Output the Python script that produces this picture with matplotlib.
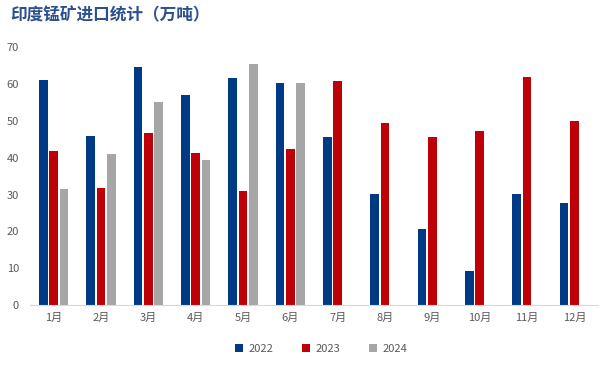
import matplotlib
matplotlib.use("Agg")
import matplotlib.pyplot as plt
import numpy as np

plt.rcParams['font.family'] = ['Noto Sans CJK SC', 'DejaVu Sans']

# data (万吨)
months = ["1月", "2月", "3月", "4月", "5月", "6月", "7月", "8月", "9月", "10月", "11月", "12月"]
imports_2022 = [61.1, 45.9, 64.7, 57.1, 61.7, 60.3, 45.7, 30.2, 20.7, 9.2, 30.2, 27.7]
imports_2023 = [41.8, 31.8, 46.7, 41.3, 31.0, 42.4, 60.9, 49.5, 45.7, 47.3, 62.0, 50.0]
imports_2024 = [31.5, 41.0, 55.2, 39.4, 65.5, 60.3, None, None, None, None, None, None]

series = [
    ("2022", imports_2022, "#003A85"),
    ("2023", imports_2023, "#BE0008"),
    ("2024", imports_2024, "#A6A6A6"),
]

fig = plt.figure(figsize=(6.12, 3.68), dpi=100)
ax = fig.add_axes([30 / 612, 63 / 368, 568 / 612, 257.7 / 368])

x = np.arange(len(months))
width = 0.184
step = 0.218
for i, (name, vals, color) in enumerate(series):
    v = np.array([np.nan if a is None else a for a in vals], dtype=float)
    ax.bar(x + (i - 1) * step, v, width=width, color=color, label=name)

ax.set_xlim(-0.5, len(months) - 0.5)
ax.set_ylim(0, 70)
ax.set_yticks(range(0, 71, 10))
ax.set_xticks(x)
ax.set_xticklabels(months)
ax.tick_params(axis="both", length=0, labelsize=8, colors="#595959")
ax.tick_params(axis="y", pad=8)
ax.tick_params(axis="x", pad=6)
for s in ["top", "right", "left"]:
    ax.spines[s].set_visible(False)
ax.spines["bottom"].set_color("#D9D9D9")

fig.text(10 / 612, 1 - 15 / 368, "印度锰矿进口统计（万吨）", fontsize=12, fontweight="bold",
         color="#2B4F8F", va="center", ha="left")

fig.legend(loc="center", bbox_to_anchor=(321 / 612, 1 - 349 / 368), ncol=3, frameon=False,
           fontsize=8, handlelength=0.7, handleheight=0.7, columnspacing=2.6, handletextpad=0.5,
           labelcolor="#595959")

fig.savefig("out.png", dpi=100)
